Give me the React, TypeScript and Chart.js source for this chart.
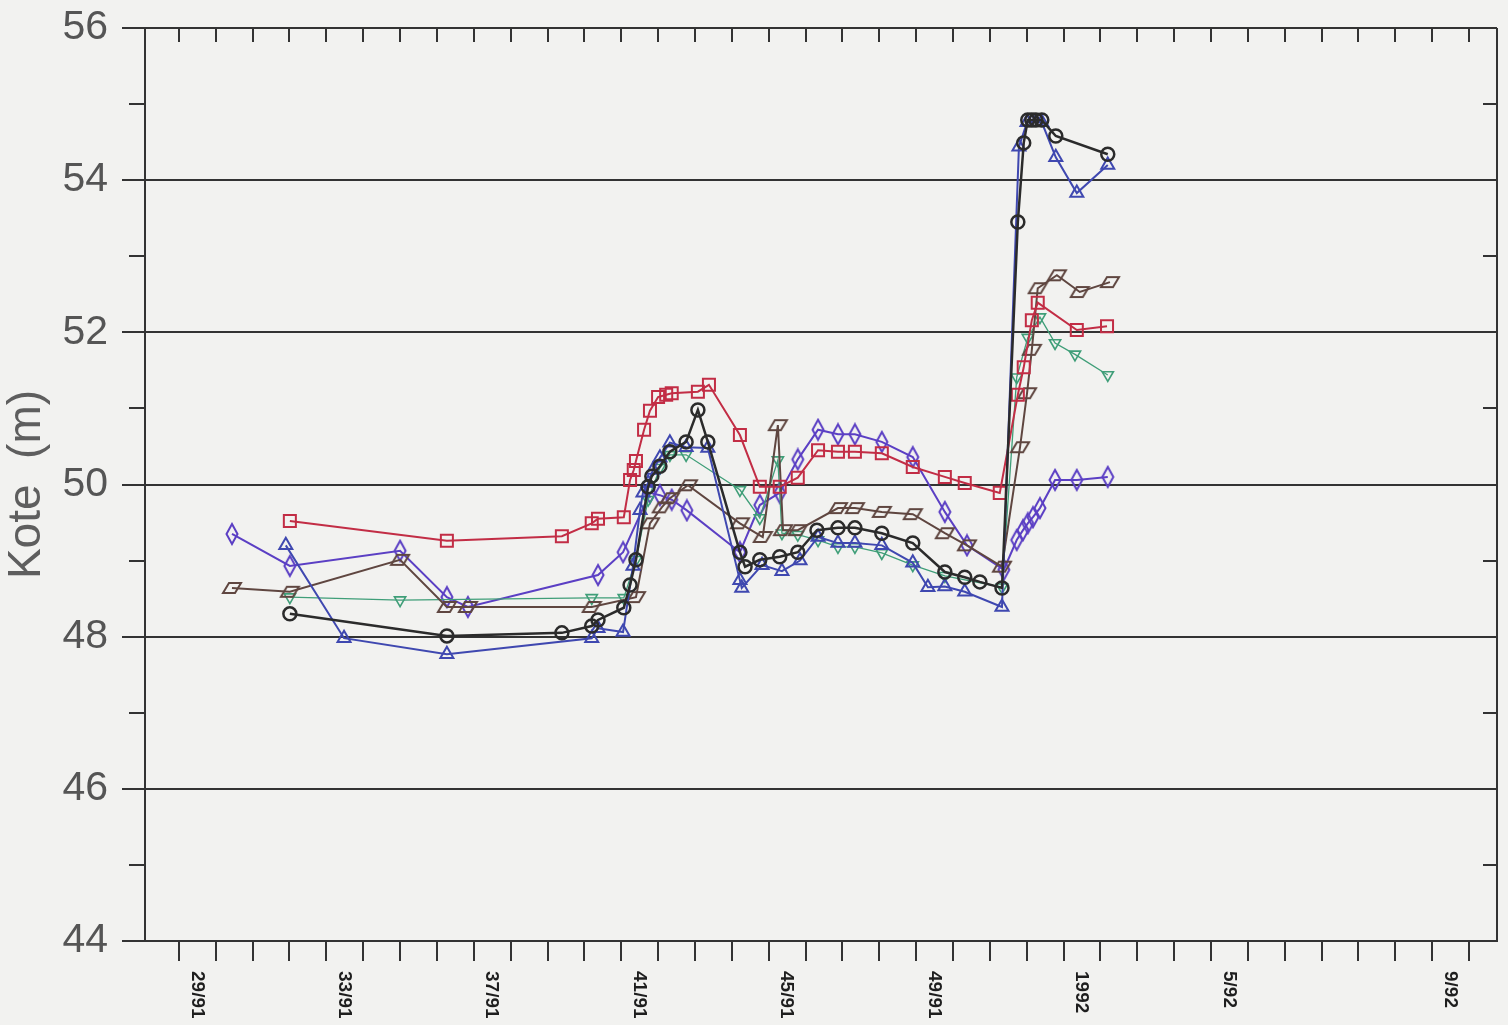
import React, { useEffect, useRef } from 'react';
import { Chart, registerables } from 'chart.js';

Chart.register(...registerables);

// x values are week numbers counted from the start of 1991 (week 53 = week 1 of 1992)
const xTickWeeks = [29, 33, 37, 41, 45, 49, 53, 57, 63];
const xTickLabels = ['29/91', '33/91', '37/91', '41/91', '45/91', '49/91', '1992', '5/92', '9/92'];
const yMajorTicks = [44, 46, 48, 50, 52, 54, 56];

const redWeeks = [31.01, 35.27, 38.39, 39.20, 39.37, 40.07, 40.24, 40.34, 40.40, 40.62, 40.78, 41.00, 41.22, 41.37, 42.08, 42.38, 43.22, 43.76, 44.30, 44.79, 45.34, 45.88, 46.34, 47.07, 47.91, 48.78, 49.32, 50.27, 50.76, 50.92, 51.14, 51.30, 52.36, 53.18];
const redLevels = [49.52, 49.26, 49.32, 49.49, 49.55, 49.57, 50.06, 50.19, 50.31, 50.72, 50.97, 51.15, 51.18, 51.20, 51.22, 51.31, 50.65, 49.97, 49.97, 50.09, 50.45, 50.43, 50.43, 50.41, 50.23, 50.10, 50.02, 49.89, 51.18, 51.54, 52.16, 52.39, 52.03, 52.08];

const blueWeeks = [30.90, 32.48, 35.27, 39.20, 39.37, 40.05, 40.32, 40.51, 40.59, 40.73, 40.86, 41.05, 41.32, 41.76, 42.35, 43.22, 43.27, 43.82, 44.36, 44.85, 45.34, 45.88, 46.34, 47.07, 47.91, 48.32, 48.78, 49.32, 50.33, 50.79, 51.01, 51.14, 51.25, 51.41, 51.79, 52.36, 53.20];
const blueLevels = [49.20, 47.98, 47.77, 47.98, 48.11, 48.06, 48.93, 49.66, 49.89, 50.02, 50.19, 50.35, 50.55, 50.49, 50.48, 48.74, 48.64, 48.94, 48.86, 49.00, 49.31, 49.23, 49.23, 49.20, 48.97, 48.65, 48.66, 48.59, 48.39, 54.44, 54.76, 54.76, 54.76, 54.76, 54.30, 53.83, 54.20];

const blackWeeks = [31.01, 35.27, 38.39, 39.20, 39.37, 40.07, 40.24, 40.40, 40.73, 40.83, 41.05, 41.32, 41.76, 42.08, 42.35, 43.22, 43.36, 43.76, 44.30, 44.79, 45.31, 45.88, 46.34, 47.07, 47.91, 48.78, 49.32, 49.73, 50.33, 50.76, 50.92, 51.03, 51.14, 51.25, 51.41, 51.79, 53.20];
const blackLevels = [48.30, 48.01, 48.05, 48.14, 48.22, 48.38, 48.68, 49.01, 49.97, 50.11, 50.24, 50.43, 50.56, 50.98, 50.56, 49.11, 48.92, 49.01, 49.05, 49.11, 49.40, 49.43, 49.43, 49.36, 49.23, 48.85, 48.78, 48.72, 48.64, 53.45, 54.49, 54.79, 54.79, 54.79, 54.79, 54.58, 54.34];

const brownWeeks = [29.44, 31.01, 34.00, 35.27, 35.84, 39.20, 40.40, 40.78, 41.10, 41.32, 41.81, 43.22, 43.84, 44.25, 44.39, 44.79, 45.88, 46.34, 47.07, 47.91, 48.78, 49.38, 50.33, 50.82, 51.01, 51.14, 51.30, 51.82, 52.44, 53.26];
const brownLevels = [48.64, 48.59, 49.01, 48.39, 48.39, 48.39, 48.52, 49.49, 49.70, 49.82, 49.99, 49.49, 49.31, 50.78, 49.40, 49.40, 49.69, 49.69, 49.64, 49.61, 49.36, 49.20, 48.92, 50.49, 51.20, 51.77, 52.58, 52.75, 52.53, 52.66];

const greenWeeks = [31.01, 34.00, 39.20, 40.07, 40.40, 40.73, 41.05, 41.32, 41.76, 43.22, 43.76, 44.25, 44.36, 44.79, 45.34, 45.88, 46.34, 47.07, 47.91, 48.78, 50.33, 50.73, 51.03, 51.36, 51.77, 52.31, 53.20];
const greenLevels = [48.52, 48.48, 48.51, 48.51, 49.01, 49.80, 50.22, 50.39, 50.39, 49.93, 49.56, 50.32, 49.36, 49.34, 49.27, 49.18, 49.18, 49.10, 48.94, 48.80, 48.65, 51.41, 51.93, 52.20, 51.86, 51.71, 51.44];

const diamondWeeks = [29.44, 31.01, 34.00, 35.27, 35.84, 39.37, 40.05, 40.78, 41.05, 41.37, 41.78, 43.22, 43.76, 44.30, 44.79, 45.34, 45.88, 46.34, 47.07, 47.91, 48.78, 49.38, 50.38, 50.73, 50.90, 51.03, 51.17, 51.36, 51.77, 52.36, 53.20];
const diamondLevels = [49.35, 48.93, 49.13, 48.52, 48.39, 48.81, 49.11, 49.89, 49.86, 49.80, 49.66, 49.11, 49.73, 49.89, 50.33, 50.72, 50.66, 50.66, 50.56, 50.36, 49.64, 49.20, 48.88, 49.27, 49.40, 49.49, 49.57, 49.69, 50.06, 50.06, 50.10];

const FONT = '"Liberation Sans", Arial, Helvetica, sans-serif';
const AXIS = '#333333';

const pts = (xs: number[], ys: number[]) => xs.map((x, i) => ({ x, y: ys[i] }));

function makeParallelogram(color: string) {
  const c = document.createElement('canvas');
  c.width = 22;
  c.height = 16;
  const g = c.getContext('2d')!;
  g.strokeStyle = color;
  g.lineWidth = 2;
  g.beginPath();
  g.moveTo(8, 3);
  g.lineTo(20, 3);
  g.lineTo(14, 13);
  g.lineTo(2, 13);
  g.closePath();
  g.stroke();
  return c;
}

function makeDiamond(color: string) {
  const c = document.createElement('canvas');
  c.width = 16;
  c.height = 24;
  const g = c.getContext('2d')!;
  g.strokeStyle = color;
  g.lineWidth = 2;
  g.beginPath();
  g.moveTo(8, 2);
  g.lineTo(13.5, 12);
  g.lineTo(8, 22);
  g.lineTo(2.5, 12);
  g.closePath();
  g.stroke();
  return c;
}

const decorPlugin = {
  id: 'decor',
  afterDraw(chart: any) {
    const { ctx, chartArea: a } = chart;
    const xs = chart.scales.x;
    const ys = chart.scales.y;
    ctx.save();
    ctx.strokeStyle = AXIS;
    ctx.lineWidth = 2;
    ctx.beginPath();
    ctx.moveTo(a.right, a.top);
    ctx.lineTo(a.right, a.bottom);
    xs.ticks.forEach((t: any) => {
      const px = Math.round(xs.getPixelForValue(t.value));
      ctx.moveTo(px, a.top);
      ctx.lineTo(px, a.top + 14);
    });
    ys.ticks.forEach((t: any) => {
      if (yMajorTicks.indexOf(t.value) === -1) {
        const py = Math.round(ys.getPixelForValue(t.value));
        ctx.moveTo(a.left - 16, py);
        ctx.lineTo(a.left, py);
        ctx.moveTo(a.right - 14, py);
        ctx.lineTo(a.right, py);
      }
    });
    ctx.stroke();

    ctx.fillStyle = '#1e1e1e';
    ctx.font = 'bold 19px ' + FONT;
    ctx.textAlign = 'left';
    ctx.textBaseline = 'middle';
    xTickWeeks.forEach((w, i) => {
      const px = xs.getPixelForValue(w) - 19;
      ctx.save();
      ctx.translate(px, 971);
      ctx.rotate(Math.PI / 2);
      ctx.fillText(xTickLabels[i], 0, 0);
      ctx.restore();
    });
    ctx.restore();
  },
};

export default function App() {
  const canvasRef = useRef<HTMLCanvasElement | null>(null);

  useEffect(() => {
    const canvas = canvasRef.current;
    if (!canvas) return;
    const red = '#c22d45';
    const blue = '#3f48b0';
    const black = '#2b2b2b';
    const brown = '#5f4640';
    const green = '#3f9e78';
    const violet = '#5b3fc4';
    const none = 'rgba(0,0,0,0)';

    const chart = new Chart(canvas, {
      type: 'line',
      data: {
        datasets: [
          {
            label: 'circles',
            data: pts(blackWeeks, blackLevels),
            borderColor: black,
            borderWidth: 2.5,
            pointStyle: 'circle',
            pointRadius: 6.5,
            pointBorderWidth: 2.5,
            pointBorderColor: black,
            pointBackgroundColor: none,
            tension: 0,
          },
          {
            label: 'triangles',
            data: pts(blueWeeks, blueLevels),
            borderColor: blue,
            borderWidth: 2,
            pointStyle: 'triangle',
            pointRadius: 7.5,
            pointBorderWidth: 2,
            pointBorderColor: blue,
            pointBackgroundColor: none,
            tension: 0,
          },
          {
            label: 'squares',
            data: pts(redWeeks, redLevels),
            borderColor: red,
            borderWidth: 2,
            pointStyle: 'rect',
            pointRadius: 8.5,
            pointBorderWidth: 2,
            pointBorderColor: red,
            pointBackgroundColor: none,
            tension: 0,
          },
          {
            label: 'parallelograms',
            data: pts(brownWeeks, brownLevels),
            borderColor: brown,
            borderWidth: 2,
            pointStyle: makeParallelogram(brown) as any,
            pointRadius: 8,
            pointBackgroundColor: none,
            tension: 0,
          },
          {
            label: 'down-triangles',
            data: pts(greenWeeks, greenLevels),
            borderColor: green,
            borderWidth: 1.3,
            pointStyle: 'triangle',
            pointRotation: 180,
            pointRadius: 6.5,
            pointBorderWidth: 1.6,
            pointBorderColor: green,
            pointBackgroundColor: none,
            tension: 0,
          },
          {
            label: 'diamonds',
            data: pts(diamondWeeks, diamondLevels),
            borderColor: violet,
            borderWidth: 2,
            pointStyle: makeDiamond(violet) as any,
            pointRadius: 8,
            pointBackgroundColor: none,
            tension: 0,
          },
        ],
      },
      options: {
        responsive: false,
        maintainAspectRatio: false,
        devicePixelRatio: 1,
        animation: false,
        layout: { padding: { top: 28, right: 11, left: 0, bottom: 0 } },
        plugins: {
          legend: { display: false },
          tooltip: { enabled: false },
        },
        scales: {
          x: {
            type: 'linear',
            min: 27.08,
            max: 63.76,
            afterFit: (s: any) => {
              s.height = 84;
              s.paddingLeft = 0;
              s.paddingRight = 0;
            },
            ticks: { stepSize: 1, display: false, includeBounds: false },
            grid: {
              drawOnChartArea: false,
              drawTicks: true,
              tickLength: 20,
              color: AXIS,
              tickColor: AXIS,
              lineWidth: 2,
            },
            border: { display: true, color: AXIS, width: 2 },
          },
          y: {
            type: 'linear',
            min: 44,
            max: 56,
            afterFit: (s: any) => {
              s.width = 145;
              s.paddingTop = 0;
              s.paddingBottom = 0;
            },
            ticks: {
              stepSize: 1,
              autoSkip: false,
              includeBounds: false,
              padding: 14,
              color: '#555',
              font: { size: 41, family: FONT },
              callback: (v: any) => (yMajorTicks.indexOf(Number(v)) !== -1 ? String(v) : ''),
            },
            grid: {
              drawTicks: true,
              tickLength: 23,
              lineWidth: 2,
              color: (c: any) => (yMajorTicks.indexOf(c.tick.value) !== -1 ? AXIS : none),
              tickColor: (c: any) => (yMajorTicks.indexOf(c.tick.value) !== -1 ? AXIS : none),
            },
            border: { display: true, color: AXIS, width: 2 },
            title: {
              display: true,
              text: 'Kote  (m)',
              color: '#5e5e5e',
              font: { size: 46, family: FONT },
              padding: { top: 0, bottom: 0 },
            },
          },
        },
      },
      plugins: [decorPlugin],
    } as any);

    return () => {
      chart.destroy();
    };
  }, []);

  return (
    <div
      style={{
        position: 'absolute',
        left: 0,
        top: 0,
        width: 1508,
        height: 1025,
        background: '#f2f2f0',
        overflow: 'hidden',
      }}
    >
      <canvas ref={canvasRef} width={1508} height={1025} style={{ width: 1508, height: 1025, display: 'block' }} />
    </div>
  );
}
